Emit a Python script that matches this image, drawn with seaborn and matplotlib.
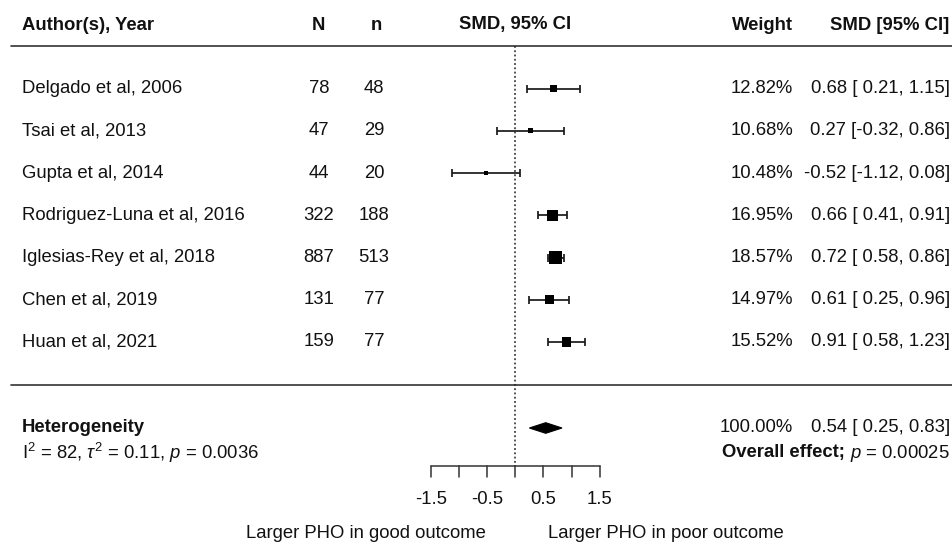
import numpy as np
import pandas as pd
import matplotlib
matplotlib.use("Agg")
import matplotlib.pyplot as plt
import seaborn as sns
from matplotlib.patches import Polygon

# ---------------- data ----------------
studies = ["Delgado et al, 2006", "Tsai et al, 2013", "Gupta et al, 2014",
           "Rodriguez-Luna et al, 2016", "Iglesias-Rey et al, 2018",
           "Chen et al, 2019", "Huan et al, 2021"]
N_total = [78, 47, 44, 322, 887, 131, 159]
n_events = [48, 29, 20, 188, 513, 77, 77]
smd = [0.68, 0.27, -0.52, 0.66, 0.72, 0.61, 0.91]
ci_low = [0.21, -0.32, -1.12, 0.41, 0.58, 0.25, 0.58]
ci_high = [1.15, 0.86, 0.08, 0.91, 0.86, 0.96, 1.23]
weights = [12.82, 10.68, 10.48, 16.95, 18.57, 14.97, 15.52]

pooled_smd = 0.54
pooled_low = 0.25
pooled_high = 0.83
pooled_weight = 100.00

headers = ["Author(s), Year", "N", "n", "SMD, 95% CI", "Weight", "SMD [95% CI]"]
het_title = "Heterogeneity"
het_stats = r"$\mathrm{I}^2$ = 82, $\tau^2$ = 0.11, $p$ = 0.0036"
overall_bold = "Overall effect;"
overall_p = r" $p$ = 0.00025"
axis_ticks = [-1.5, -1.0, -0.5, 0.0, 0.5, 1.0, 1.5]
axis_tick_labels = ["-1.5", "", "-0.5", "", "0.5", "", "1.5"]
left_label = "Larger PHO in good outcome"
right_label = "Larger PHO in poor outcome"

df = pd.DataFrame({"study": studies, "N": N_total, "n": n_events, "smd": smd,
                   "lo": ci_low, "hi": ci_high, "weight": weights})
df["row"] = np.arange(len(df))

# ---------------- style ----------------
sns.set_theme(style="white")
plt.rcParams["font.family"] = ["Liberation Sans", "DejaVu Sans"]
plt.rcParams["mathtext.fontset"] = "custom"
plt.rcParams["mathtext.rm"] = "Liberation Sans"
plt.rcParams["mathtext.it"] = "Liberation Sans:italic"
plt.rcParams["mathtext.bf"] = "Liberation Sans:bold"

W, H = 953, 543
X0_PX, UNIT_PX = 515.3, 56.3      # pixel of SMD=0, pixels per SMD unit
Y0_PX, ROW_PX = 88.5, 42.25       # pixel of first row, pixels per row


def px_x(p):
    return (p - X0_PX) / UNIT_PX


def px_y(p):
    return (p - Y0_PX) / ROW_PX


fig = plt.figure(figsize=(W / 100, H / 100), dpi=100)
ax = fig.add_axes([0, 0, 1, 1])

FS = 13.3
TXT = "#111111"
LINE = "#333333"

# CI whiskers
ax.errorbar(df["smd"], df["row"],
            xerr=[df["smd"] - df["lo"], df["hi"] - df["smd"]],
            fmt="none", ecolor="#1a1a1a", elinewidth=1.25, capsize=3.0, capthick=1.25, zorder=2)

# squares sized by weight
wmin, wmax = min(weights), max(weights)
size_map = {w: ((4.3 + 9 * (w - wmin) / (wmax - wmin)) * 0.72) ** 2 for w in weights}
sns.scatterplot(data=df, x="smd", y="row", size="weight", sizes=size_map,
                marker="s", color="black", edgecolor="none", legend=False, ax=ax, zorder=3)
ax.set_xlim(px_x(0), px_x(W))
ax.set_ylim(px_y(H), px_y(0))
ax.axis("off")

# headers
hy = px_y(25)
ax.text(px_x(22), hy, headers[0], ha="left", va="center", fontsize=FS, fontweight="bold", color=TXT)
ax.text(px_x(318), hy, headers[1], ha="center", va="center", fontsize=FS, fontweight="bold", color=TXT)
ax.text(px_x(376), hy, headers[2], ha="center", va="center", fontsize=FS, fontweight="bold", color=TXT)
ax.text(0.0, hy, headers[3], ha="center", va="center", fontsize=FS, fontweight="bold", color=TXT)
ax.text(px_x(793), hy, headers[4], ha="right", va="center", fontsize=FS, fontweight="bold", color=TXT)
ax.text(px_x(949), hy, headers[5], ha="right", va="center", fontsize=FS, fontweight="bold", color=TXT)

# horizontal rules
ax.plot([px_x(11), px_x(W)], [px_y(46), px_y(46)], color=LINE, lw=1.2)
ax.plot([px_x(11), px_x(W)], [px_y(385), px_y(385)], color=LINE, lw=1.2)

# reference dotted line at 0
axis_y = px_y(466)
ax.vlines(0, px_y(46), axis_y, colors="#222222", linestyles=(0, (1.2, 1.6)), lw=1.1)

# study texts
for _, r in df.iterrows():
    y = r["row"]
    ax.text(px_x(22), y, r["study"], ha="left", va="center", fontsize=FS, color=TXT)
    ax.text(px_x(319), y, f"{int(r['N'])}", ha="center", va="center", fontsize=FS, color=TXT)
    ax.text(px_x(374), y, f"{int(r['n'])}", ha="center", va="center", fontsize=FS, color=TXT)
    ax.text(px_x(793), y, f"{r['weight']:.2f}%", ha="right", va="center", fontsize=FS, color=TXT)
    ax.text(px_x(950), y, f"{r['smd']:.2f} [{r['lo']:5.2f},{r['hi']:5.2f}]",
            ha="right", va="center", fontsize=FS, color=TXT)

# pooled diamond
sy = px_y(428)
dh = 5.3 / ROW_PX
ax.add_patch(Polygon([(pooled_low, sy), (pooled_smd, sy - dh), (pooled_high, sy), (pooled_smd, sy + dh)],
                     closed=True, facecolor="black", edgecolor="black", lw=0.8, zorder=3))
ax.text(px_x(22), sy, het_title, ha="left", va="center", fontsize=FS, fontweight="bold", color=TXT)
ax.text(px_x(22), px_y(453), het_stats, ha="left", va="center", fontsize=FS, color=TXT)
ax.text(px_x(793), sy, f"{pooled_weight:.2f}%", ha="right", va="center", fontsize=FS, color=TXT)
ax.text(px_x(950), sy, f"{pooled_smd:.2f} [{pooled_low:5.2f},{pooled_high:5.2f}]",
        ha="right", va="center", fontsize=FS, color=TXT)
tp = ax.text(px_x(950), px_y(453), overall_p, ha="right", va="center", fontsize=FS, color=TXT)
renderer = fig.canvas.get_renderer()
bb = tp.get_window_extent(renderer=renderer)
ax.annotate(overall_bold, xy=(px_x(950), px_y(453)), xycoords="data",
            xytext=(-(bb.width) * 72 / 100, 0), textcoords="offset points",
            ha="right", va="center", fontsize=FS, fontweight="bold", color=TXT)

# custom x axis
ax.plot([axis_ticks[0], axis_ticks[-1]], [axis_y, axis_y], color=LINE, lw=1.1)
tick_bot = px_y(477)
for t, lab in zip(axis_ticks, axis_tick_labels):
    ax.plot([t, t], [axis_y, tick_bot], color=LINE, lw=1.1)
    if lab:
        ax.text(t, px_y(500), lab, ha="center", va="center", fontsize=FS, color=TXT)

ax.text(px_x(366), px_y(533), left_label, ha="center", va="center", fontsize=FS, color=TXT)
ax.text(px_x(666), px_y(533), right_label, ha="center", va="center", fontsize=FS, color=TXT)

fig.savefig("out.png", dpi=100, facecolor="white")
